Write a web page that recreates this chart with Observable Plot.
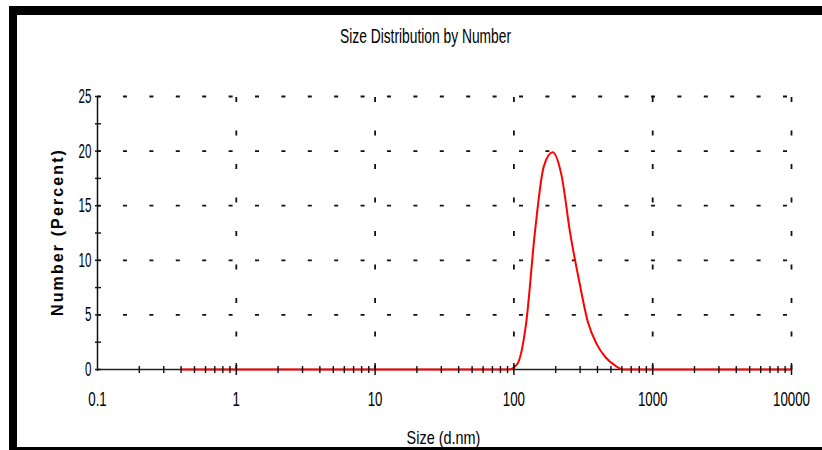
<!DOCTYPE html>
<html>
<head>
<meta charset="utf-8">
<script src="https://cdn.jsdelivr.net/npm/d3@7"></script>
<script src="https://cdn.jsdelivr.net/npm/@observablehq/plot@0.6"></script>
<style>
  html, body { margin: 0; padding: 0; background: #fff; overflow: hidden; width: 822px; height: 450px; }
  #wrap { position: relative; width: 822px; height: 450px; overflow: hidden; }
  #chart { position: absolute; left: 0; top: 0; }
  #frame {
    position: absolute; left: 9px; top: 6px; width: 830px; height: 432px;
    border-top: 9px solid #000; border-left: 8px solid #000; border-bottom: 9px solid #000;
    pointer-events: none;
  }
</style>
</head>
<body>
<div id="wrap"><div id="chart"></div><div id="frame"></div></div>
<script>
// ---- data ----
const title = "Size Distribution by Number";
const xLabel = "Size (d.nm)";
const yLabel = "Number (Percent)";

const sizes = [0.4,0.4632,0.5365,0.6213,0.7195,0.8332,0.9649,1.117,1.294,1.499,
  1.736,2.01,2.328,2.696,3.122,3.615,4.187,4.849,5.615,6.503,
  7.531,8.721,10.1,11.7,13.54,15.69,18.17,21.04,24.36,28.21,
  32.67,37.84,43.82,50.75,58.77,68.06,78.82,91.28,105.7,122.4,
  141.8,164.2,190.1,220.2,255,295.3,342,396.1,458.7,531.2,
  615.1,712.4,825,955.4,1106,1281,1484,1718,1990,2305,
  2669,3091,3580,4145,4801,5560,6439,7456,8635,10000];
const numbers = [0,0,0,0,0,0,0,0,0,0,
  0,0,0,0,0,0,0,0,0,0,
  0,0,0,0,0,0,0,0,0,0,
  0,0,0,0,0,0,0,0,0.5,4.2,
  12.6,18.6,19.9,17.8,12.4,8.1,4.3,2.3,1.1,0.4,
  0,0,0,0,0,0,0,0,0,0,
  0,0,0,0,0,0,0,0,0,0];

const xTicks = [0.1, 1, 10, 100, 1000, 10000];
const xTickLabels = ["0.1", "1", "10", "100", "1000", "10000"];
const xMinorTicks = [0.1, 1, 10, 100, 1000].flatMap(d => [2,3,4,5,6,7,8,9].map(m => d * m));
const yTicks = [0, 5, 10, 15, 20, 25];
const yTickLabels = ["0", "5", "10", "15", "20", "25"];
const yMinorTicks = [2.5, 7.5, 12.5, 17.5, 22.5];
const xGrid = [1, 10, 100, 1000, 10000];
const yGrid = [5, 10, 15, 20, 25];

const series = sizes.map((s, i) => ({size: s, number: numbers[i]}));

const font = "'Liberation Sans', Arial, sans-serif";

const svg = Plot.plot({
  width: 822,
  height: 450,
  marginLeft: 97,
  marginRight: 31,
  marginTop: 96,
  marginBottom: 81,
  style: {fontFamily: font, background: "transparent", overflow: "visible", color: "#000"},
  x: {type: "log", domain: [0.1, 10000], axis: null},
  y: {domain: [0, 25], axis: null},
  marks: [
    // dotted grid
    Plot.ruleY(yGrid, {stroke: "#111", strokeWidth: 1.8, strokeDasharray: "4,22.4", strokeDashoffset: 0.4}),
    Plot.ruleX(xGrid, {stroke: "#111", strokeWidth: 1.8, strokeDasharray: "5,28.5", strokeDashoffset: -1}),
    // axis lines
    Plot.ruleX([0.1], {stroke: "#111", strokeWidth: 1.5, insetBottom: -2}),
    Plot.ruleY([0], {stroke: "#222", strokeWidth: 1.5}),
    // curve
    Plot.line(series, {x: "size", y: "number", stroke: "#ff0000", strokeWidth: 2, curve: "monotone-x"}),
    // ticks
    Plot.tickX(xMinorTicks, {x: d => d, stroke: "#111", strokeWidth: 1.4, insetTop: 270, insetBottom: -4}),
    Plot.tickX(xTicks.slice(1), {x: d => d, stroke: "#111", strokeWidth: 1.5, insetTop: 267, insetBottom: -6}),
    Plot.tickY(yTicks.concat(yMinorTicks), {y: d => d, stroke: "#111", strokeWidth: 1.4, insetLeft: -2, insetRight: 690}),
    // tick labels
    Plot.text(xTicks, {x: d => d, text: (d, i) => xTickLabels[i], frameAnchor: "bottom", lineAnchor: "middle", dy: 30, fontSize: 20, fill: "#000"}),
    Plot.text(yTicks, {y: d => d, text: (d, i) => yTickLabels[i], frameAnchor: "left", textAnchor: "end", lineAnchor: "middle", dx: -6, fontSize: 20, fill: "#000"}),
    // titles
    Plot.text([title], {text: d => d, frameAnchor: "top", lineAnchor: "middle", textAnchor: "middle", dy: -60, dx: -19, fontSize: 20, fill: "#000"}),
    Plot.text([xLabel], {text: d => d, frameAnchor: "bottom", lineAnchor: "middle", textAnchor: "middle", dy: 68, dx: -1, fontSize: 19, fill: "#000"}),
    Plot.text([yLabel], {text: d => d, frameAnchor: "left", rotate: -90, textAnchor: "middle", lineAnchor: "middle", dx: -40, dy: -1, fontSize: 16, fontWeight: "bold", fill: "#000"})
  ]
});

document.getElementById("chart").append(svg);

// condensed look of the original: squeeze glyphs horizontally, per text group
const ratios = [0.665, 0.58, 0.69, 0.76, null];
svg.querySelectorAll('g[aria-label="text"]').forEach((g, gi) => {
  const r = ratios[gi];
  g.querySelectorAll("text").forEach(t => {
    const len = t.getComputedTextLength();
    if (!(len > 0)) return;
    if (r == null) {
      // rotated y label: widen spacing to span ~168px
      t.setAttribute("letter-spacing", ((168 - len) / t.textContent.length).toFixed(2));
    } else {
      t.setAttribute("textLength", (len * r).toFixed(2));
      t.setAttribute("lengthAdjust", "spacingAndGlyphs");
    }
  });
});
</script>
</body>
</html>
